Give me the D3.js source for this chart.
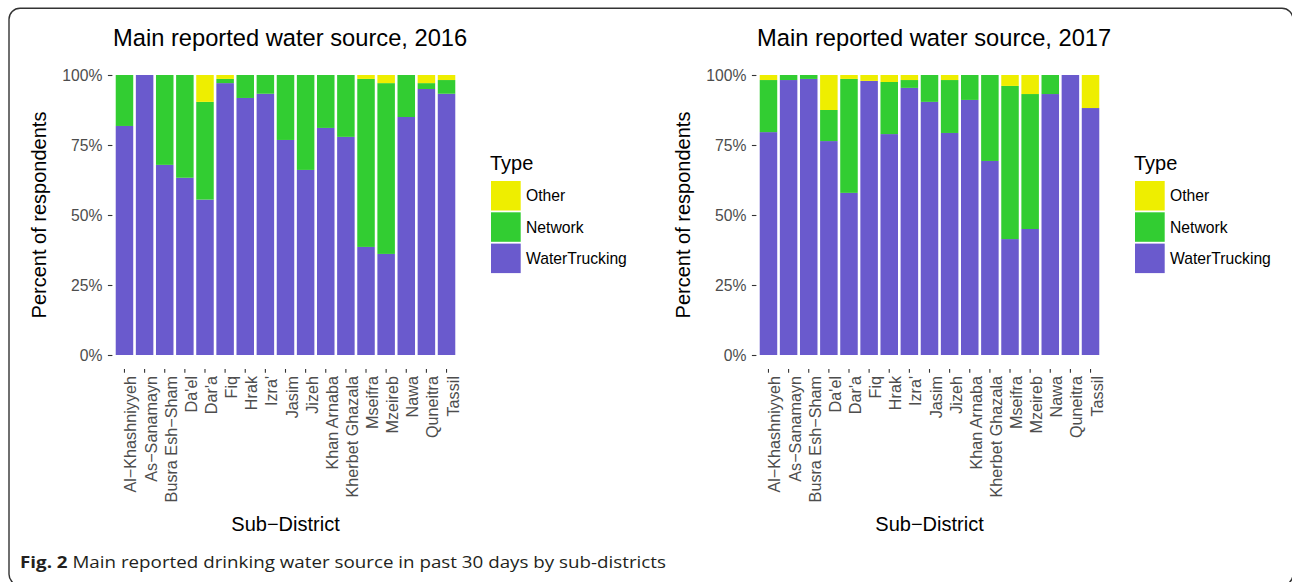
<!DOCTYPE html>
<html>
<head>
<meta charset="utf-8">
<script src="https://cdn.jsdelivr.net/npm/d3@7"></script>
<style>
  html, body { margin: 0; padding: 0; background: #fff; }
  svg { display: block; }
  text { font-family: "Liberation Sans", Arial, Helvetica, sans-serif; }
</style>
</head>
<body>
<svg id="chart" width="1292" height="582"></svg>
<script>
// ---- data ----
const categories = ["Al\u2212Khashniyyeh", "As\u2212Sanamayn", "Busra Esh\u2212Sham", "Da'el", "Dar'a", "Fiq", "Hrak", "Izra'",
  "Jasim", "Jizeh", "Khan Arnaba", "Kherbet Ghazala", "Mseifra", "Mzeireb", "Nawa", "Quneitra", "Tassil"];
const types = ["WaterTrucking", "Network", "Other"];
const legendOrder = ["Other", "Network", "WaterTrucking"];
const typeColors = ["#6A5ACD", "#32CD32", "#EEEE00"];
const yTicks = [0, 0.25, 0.5, 0.75, 1];

const water2016   = [81.8, 100, 67.9, 63.3, 55.5, 97.1, 91.8, 93.3, 76.8, 66.1, 81.1, 77.9, 38.6, 36.1, 85.0, 95.0, 93.3];
const network2016 = [18.2, 0, 32.1, 36.7, 34.9, 1.5, 8.2, 6.7, 23.2, 33.9, 18.9, 22.1, 60.0, 61.0, 15.0, 2.1, 4.9];
const other2016   = [0, 0, 0, 0, 9.6, 1.4, 0, 0, 0, 0, 0, 0, 1.4, 2.9, 0, 2.9, 1.8];

const water2017   = [79.6, 98.2, 98.6, 76.4, 57.9, 97.9, 78.9, 95.4, 90.4, 79.3, 91.1, 69.3, 41.4, 45.0, 93.2, 100, 88.2];
const network2017 = [18.6, 1.8, 1.4, 11.1, 40.7, 0, 18.6, 2.8, 9.6, 18.9, 8.9, 30.7, 54.7, 48.2, 6.8, 0, 0];
const other2017   = [1.8, 0, 0, 12.5, 1.4, 2.1, 2.5, 1.8, 0, 1.8, 0, 0, 3.9, 6.8, 0, 0, 11.8];

const svg = d3.select("#chart");
const color = d3.scaleOrdinal().domain(types).range(typeColors);

// outer frame (right and bottom edges fall at the picture's border)
svg.append("rect")
  .attr("x", 9).attr("y", 8.3).attr("width", 1284).attr("height", 577)
  .attr("rx", 11).attr("ry", 11)
  .attr("fill", "none").attr("stroke", "#333").attr("stroke-width", 1.4);

function drawChart(ox, title, water, network, other) {
  const g = svg.append("g").attr("transform", `translate(${ox},0)`);
  const rows = categories.map((c, i) => {
    const tot = water[i] + network[i] + other[i];
    return { cat: c, WaterTrucking: water[i] / tot, Network: network[i] / tot, Other: other[i] / tot };
  });
  const stack = d3.stack().keys(types)(rows);

  const x = d3.scaleBand().domain(categories).range([112.4, 458.6])
    .paddingInner(0.13).paddingOuter(0.165);
  const y = d3.scaleLinear().domain([0, 1]).range([355, 75]);
  const panelBottom = 369;

  // bars
  g.selectAll("g.layer").data(stack).join("g")
    .attr("class", "layer")
    .attr("fill", d => color(d.key))
    .selectAll("rect").data(d => d).join("rect")
      .attr("x", d => x(d.data.cat))
      .attr("width", x.bandwidth())
      .attr("y", d => y(d[1]))
      .attr("height", d => Math.max(0, y(d[0]) - y(d[1])));

  // y axis
  const yAxis = d3.axisLeft(y).tickValues(yTicks).tickFormat(d3.format(".0%"))
    .tickSize(4.5).tickPadding(5.5);
  const ya = g.append("g").attr("transform", "translate(112.4,0)").call(yAxis);
  ya.select(".domain").remove();
  ya.selectAll("line").attr("stroke", "#333").attr("stroke-width", 1.1);
  ya.selectAll("text").attr("fill", "#4D4D4D").style("font-size", "15.7px")
    .attr("font-family", "Liberation Sans, Arial, sans-serif").attr("dy", "0.36em");

  // x axis
  const xAxis = d3.axisBottom(x).tickSize(3.7).tickPadding(0);
  const xa = g.append("g").attr("transform", `translate(0,${panelBottom})`).call(xAxis);
  xa.select(".domain").remove();
  xa.selectAll("line").attr("stroke", "#333").attr("stroke-width", 1.1);
  xa.selectAll("text")
    .attr("fill", "#4D4D4D").style("font-size", "16.2px")
    .attr("font-family", "Liberation Sans, Arial, sans-serif")
    .attr("text-anchor", "end")
    .attr("transform", "translate(0,7) rotate(-90)")
    .attr("x", 0).attr("y", 0).attr("dy", "0.74em");

  // titles
  g.append("text").attr("x", 113).attr("y", 46).text(title)
    .style("font-size", "23.7px").attr("fill", "#000");
  g.append("text").attr("x", (112.4 + 458.6) / 2).attr("y", 531)
    .attr("text-anchor", "middle").style("font-size", "20px").attr("fill", "#000")
    .text("Sub\u2212District");
  g.append("text").attr("transform", `translate(46,${(75 + 355) / 2}) rotate(-90)`)
    .attr("text-anchor", "middle").style("font-size", "20px").attr("fill", "#000")
    .text("Percent of respondents");

  // legend
  const lg = g.append("g").attr("transform", "translate(491,0)");
  lg.append("text").attr("x", -1).attr("y", 170).style("font-size", "20px").attr("fill", "#000").text("Type");
  const keyTop = [181, 212.3, 243.6];
  legendOrder.forEach((k, i) => {
    lg.append("rect").attr("x", 0).attr("y", keyTop[i]).attr("width", 29.7).attr("height", 29.5)
      .attr("fill", color(k));
    lg.append("text").attr("x", 35).attr("y", keyTop[i] + 14.75).attr("dy", "0.36em")
      .style("font-size", "15.7px").attr("fill", "#000").text(k);
  });
}

drawChart(0, "Main reported water source, 2016", water2016, network2016, other2016);
drawChart(644, "Main reported water source, 2017", water2017, network2017, other2017);

// caption
const cap = svg.append("text").attr("x", 20).attr("y", 568)
  .style("font-family", "'Open Sans', 'Noto Sans', sans-serif").style("font-size", "15.5px").attr("fill", "#231F20");
cap.append("tspan").attr("font-weight", "bold").text("Fig. 2");
cap.append("tspan").text(" Main reported drinking water source in past 30 days by sub-districts");
const capLen = cap.node().getComputedTextLength();
if (capLen > 0) cap.attr("textLength", 646).attr("lengthAdjust", "spacingAndGlyphs");
</script>
</body>
</html>
